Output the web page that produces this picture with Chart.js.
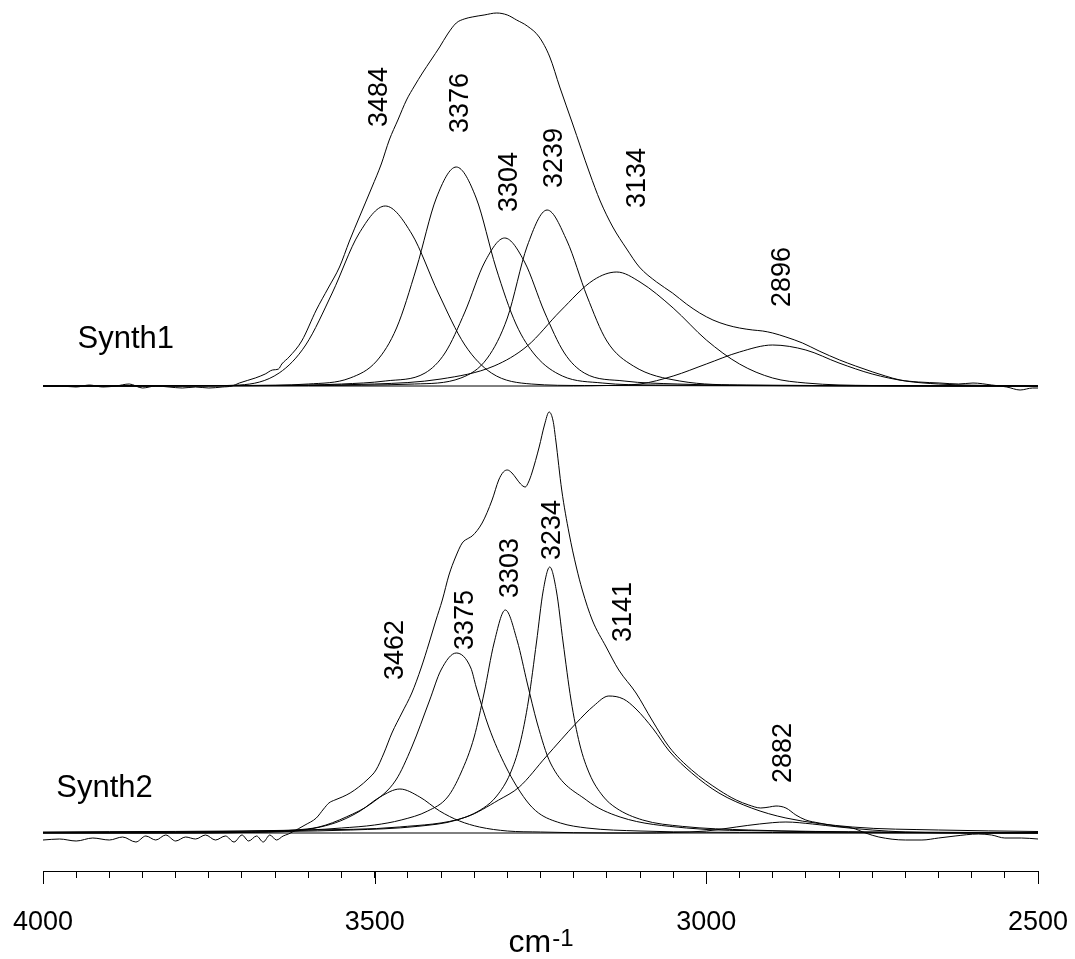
<!DOCTYPE html>
<html>
<head>
<meta charset="utf-8">
<script src="https://cdn.jsdelivr.net/npm/chart.js@4.4.1/dist/chart.umd.min.js"></script>
<style>
  html,body{margin:0;padding:0;background:#fff;}
  canvas{display:block;}
</style>
</head>
<body>
<canvas id="irChart" width="1075" height="959"></canvas>
<script>
// wavenumbers (cm-1) and intensities (arb. units, baseline = 0)

// ---- Synth1 ----
const s1EnvWn = [4000,3975,3950,3930,3910,3890,3870,3850,3830,3810,3790,3770,3750,3730,3715,3704,3680,3665,3654,3645,3640,3629,3610,3588,3570,3553,3538,3523,3504,3490,3478,3465,3452,3440,3428,3415,3402,3390,3377,3365,3353,3335,3316,3300,3286,3270,3252,3236,3221,3202,3176,3160,3141,3120,3101,3075,3051,3030,3010,2990,2969,2950,2930,2915,2900,2880,2855,2830,2799,2775,2749,2730,2708,2680,2648,2620,2598,2570,2547,2527,2508,2500];
const s1EnvI  = [0,0,-1,1,-1,0,2,-2,0,-1,-2,-1,-2,-1,0,3,8,12,16,17,22,29,45,76,98,119,145,169,199,222,246,266,286,300,313,326,339,352,363,367,369,371,373,371,366,360,349,329,299,263,213,185,159,137,119,104,93,82,73,66,61,58,56,55,53,49,43,35,26,20,14,10,6,4,3,2,3,1,-1,-4,-2,-2];

const s1P3484Wn = [4000,3790,3704,3644,3604,3564,3524,3484,3444,3404,3364,3324,3264,3184,2500];
const s1P3484I  = [0,0,1,13,41,93,152,180,152,93,41,13,2,0.5,0];
const s1P3376Wn = [4000,3700,3600,3537,3497,3467,3437,3407,3377,3347,3317,3287,3257,3217,3157,3077,2500];
const s1P3376I  = [0,0.5,2,8,25,58,118,188,219,188,118,62,30,10,3,1,0];
const s1P3304Wn = [4000,3650,3550,3484,3424,3394,3364,3334,3304,3274,3244,3214,3184,3124,3044,2900,2500];
const s1P3304I  = [0,0.5,2,5,13,33,74,124,148,124,74,33,13,5,2,0.5,0];
const s1P3239Wn = [4000,3600,3440,3370,3330,3300,3270,3240,3210,3180,3150,3110,3040,2940,2500];
const s1P3239I  = [0,0.5,2,8,28,68,140,176,145,90,45,20,5,1,0];
const s1P3134Wn = [4000,3700,3500,3400,3320,3270,3220,3170,3135,3100,3050,3000,2950,2900,2850,2750,2500];
const s1P3134I  = [0,0.5,2,7,20,40,75,106,114,104,78,46,22,8,3,0.5,0];
const s1P2896Wn = [4000,3200,3150,3100,3050,3000,2950,2900,2850,2800,2750,2700,2650,2550,2500];
const s1P2896I  = [0,0,0.5,2,10,22,34,41,36,23,12,5,2,0.3,0];

// ---- Synth2 ----
const s2EnvWn = [4000,3975,3950,3925,3900,3880,3860,3845,3830,3815,3800,3785,3770,3755,3740,3725,3712,3700,3690,3678,3668,3658,3648,3638,3630,3624,3605,3588,3577,3569,3560,3549,3537,3524,3510,3498,3486,3474,3459,3444,3430,3418,3408,3398,3388,3378,3368,3358,3353,3338,3323,3313,3306,3300,3293,3287,3280,3273,3268,3263,3252,3244,3237,3231,3227,3218,3207,3196,3187,3172,3151,3132,3106,3082,3056,3022,2981,2955,2936,2918,2905,2895,2880,2865,2850,2830,2805,2780,2760,2740,2700,2675,2650,2625,2590,2570,2550,2525,2500];
const s2EnvI  = [-7,-6,-8,-5,-7,-4,-9,-3,-7,-2,-8,-4,-6,-2,-7,-3,-9,-2,-8,-3,-9,-2,-7,-3,-1,1,8,15,24,30,33,36,40,46,54,63,80,100,120,140,165,190,212,233,258,276,290,295,297,310,333,353,361,363,360,355,349,346,351,360,386,408,421,412,393,343,300,266,243,213,186,163,140,113,86,63,43,33,28,25,26,27,25,18,13,10,7,5,0,-4,-7,-7,-5,-3,-1,-2,-5,-5,-6];

const s2P3462Wn = [4000,3750,3700,3620,3582,3552,3522,3492,3462,3432,3402,3372,3342,3300,3250,3150,2500];
const s2P3462I  = [0,0,0.5,2,6,12,22,36,44,36,22,12,6,2,1,0,0];
const s2P3375Wn = [4000,3700,3620,3584,3543,3504,3468,3444,3417,3400,3377,3355,3347,3328,3302,3272,3253,3220,3180,3100,2900,2500];
const s2P3375I  = [0,0.5,3,6,16,30,53,86,133,163,180,165,146,106,66,33,20,10,5,2,0.5,0];
const s2P3303Wn = [4000,3600,3550,3500,3460,3420,3390,3370,3350,3335,3320,3303,3285,3270,3255,3235,3181,3130,3030,2900,2700,2500];
const s2P3303I  = [0.5,3,5,8,13,22,36,60,96,140,190,223,192,150,110,70,33,16,5,2,0.5,0];
const s2P3234Wn = [4000,3736,3536,3436,3376,3336,3316,3296,3281,3268,3256,3246,3236,3226,3216,3204,3191,3176,3156,3136,3096,3036,2936,2736,2500];
const s2P3234I  = [0.5,1,3,6.6,13,25,37,59,89,133,191,242,266,242,191,133,89,59,37,25,13,6.6,3,1,0.5];
const s2P3141Wn = [4000,3600,3463,3362,3313,3282,3242,3196,3170,3147,3125,3106,3080,3056,3022,2981,2932,2880,2780,2650,2500];
const s2P3141I  = [1,3,6,16,33,46,76,110,127,137,134,124,104,82,60,40,25,15,6,3,1.5];
const s2P2882Wn = [4000,3100,3050,3000,2955,2920,2880,2840,2800,2750,2700,2600,2500];
const s2P2882I  = [0,0,0.5,2,6,9,11,9,6,3,1,0,0];

// labels
const xMajorTicks = [4000, 3500, 3000, 2500];
const sampleNames = ['Synth1', 'Synth2'];
const peakLabels1 = ['3484', '3376', '3304', '3239', '3134', '2896'];
const peakLabels2 = ['3462', '3375', '3303', '3234', '3141', '2882'];

// label anchors [wavenumber, intensity]
const namePos = [[3948, 38], [3980, 36]];
const peakPos1 = [[3482,259],[3359,253],[3286,174],[3218,198],[3093,178],[2874,79]];
const peakPos2 = [[3457,153],[3352,183],[3284,235],[3221,273],[3113,191],[2873,50]];

const FONT = '"Liberation Sans", Arial, Helvetica, sans-serif';

function curve(wn, vals, axis){
  return {
    data: wn.map((w, i) => ({x: w, y: vals[i]})),
    yAxisID: axis,
    borderColor: '#000',
    borderWidth: 1,
    pointRadius: 0,
    fill: false,
    cubicInterpolationMode: 'monotone'
  };
}

const datasets = [
  curve(s1EnvWn, s1EnvI, 'yTop'),
  curve(s1P3484Wn, s1P3484I, 'yTop'),
  curve(s1P3376Wn, s1P3376I, 'yTop'),
  curve(s1P3304Wn, s1P3304I, 'yTop'),
  curve(s1P3239Wn, s1P3239I, 'yTop'),
  curve(s1P3134Wn, s1P3134I, 'yTop'),
  curve(s1P2896Wn, s1P2896I, 'yTop'),
  curve(s2EnvWn, s2EnvI, 'yBot'),
  curve(s2P3462Wn, s2P3462I, 'yBot'),
  curve(s2P3375Wn, s2P3375I, 'yBot'),
  curve(s2P3303Wn, s2P3303I, 'yBot'),
  curve(s2P3234Wn, s2P3234I, 'yBot'),
  curve(s2P3141Wn, s2P3141I, 'yBot'),
  curve(s2P2882Wn, s2P2882I, 'yBot')
];

// long ticks, sample names, rotated peak labels and the cm-1 title
const textMarks = {
  id: 'textMarks',
  afterDraw(chart){
    const ctx = chart.ctx, xs = chart.scales.x;
    ctx.save();
    ctx.strokeStyle = '#000';
    ctx.lineWidth = 1;
    xMajorTicks.forEach(v => {
      const px = Math.round(xs.getPixelForValue(v)) + 0.5;
      ctx.beginPath();
      ctx.moveTo(px, xs.top);
      ctx.lineTo(px, xs.top + 13);
      ctx.stroke();
    });

    ctx.fillStyle = '#000';
    ctx.textAlign = 'left';
    ctx.textBaseline = 'alphabetic';
    ctx.font = '31px ' + FONT;
    ['yTop', 'yBot'].forEach((ax, i) => {
      const ys = chart.scales[ax];
      ctx.fillText(sampleNames[i], xs.getPixelForValue(namePos[i][0]), ys.getPixelForValue(namePos[i][1]));
    });

    ctx.font = '27px ' + FONT;
    [[peakLabels1, peakPos1, 'yTop'], [peakLabels2, peakPos2, 'yBot']].forEach(([labels, pos, ax]) => {
      const ys = chart.scales[ax];
      labels.forEach((t, i) => {
        ctx.save();
        ctx.translate(xs.getPixelForValue(pos[i][0]), ys.getPixelForValue(pos[i][1]));
        ctx.rotate(-Math.PI / 2);
        ctx.fillText(t, 0, 0);
        ctx.restore();
      });
    });

    // axis title: cm with superscript -1
    const mid = (xs.left + xs.right) / 2;
    const base = xs.bottom - 7;
    ctx.font = '32px ' + FONT;
    const w1 = ctx.measureText('cm').width;
    ctx.font = '24px ' + FONT;
    const w2 = ctx.measureText('-1').width;
    const x0 = mid - (w1 + w2) / 2;
    ctx.font = '32px ' + FONT;
    ctx.fillText('cm', x0, base);
    ctx.font = '24px ' + FONT;
    ctx.fillText('-1', x0 + w1 + 1, base - 6);
    ctx.restore();
  }
};

new Chart(document.getElementById('irChart'), {
  type: 'line',
  data: { datasets },
  options: {
    responsive: false,
    animation: false,
    events: [],
    layout: { padding: { left: 43, right: 37, top: 0, bottom: 0 } },
    plugins: { legend: { display: false }, tooltip: { enabled: false } },
    scales: {
      x: {
        type: 'linear',
        position: 'bottom',
        reverse: true,
        min: 2500,
        max: 4000,
        afterFit(s){
          s.height = 88;
          s.paddingLeft = 0;
          s.paddingRight = 0;
        },
        border: { display: true, color: '#000', width: 1 },
        grid: { drawOnChartArea: false, drawTicks: true, tickLength: 7, tickColor: '#000', tickWidth: 1 },
        ticks: {
          stepSize: 50,
          autoSkip: false,
          maxRotation: 0,
          padding: 28,
          color: '#000',
          font: { family: FONT, size: 27 },
          callback: v => xMajorTicks.includes(v) ? String(v) : ''
        }
      },
      yTop: { type: 'linear', display: false, min: -485, max: 386 },
      yBot: { type: 'linear', display: false, min: -38, max: 833 }
    }
  },
  plugins: [textMarks]
});
</script>
</body>
</html>
